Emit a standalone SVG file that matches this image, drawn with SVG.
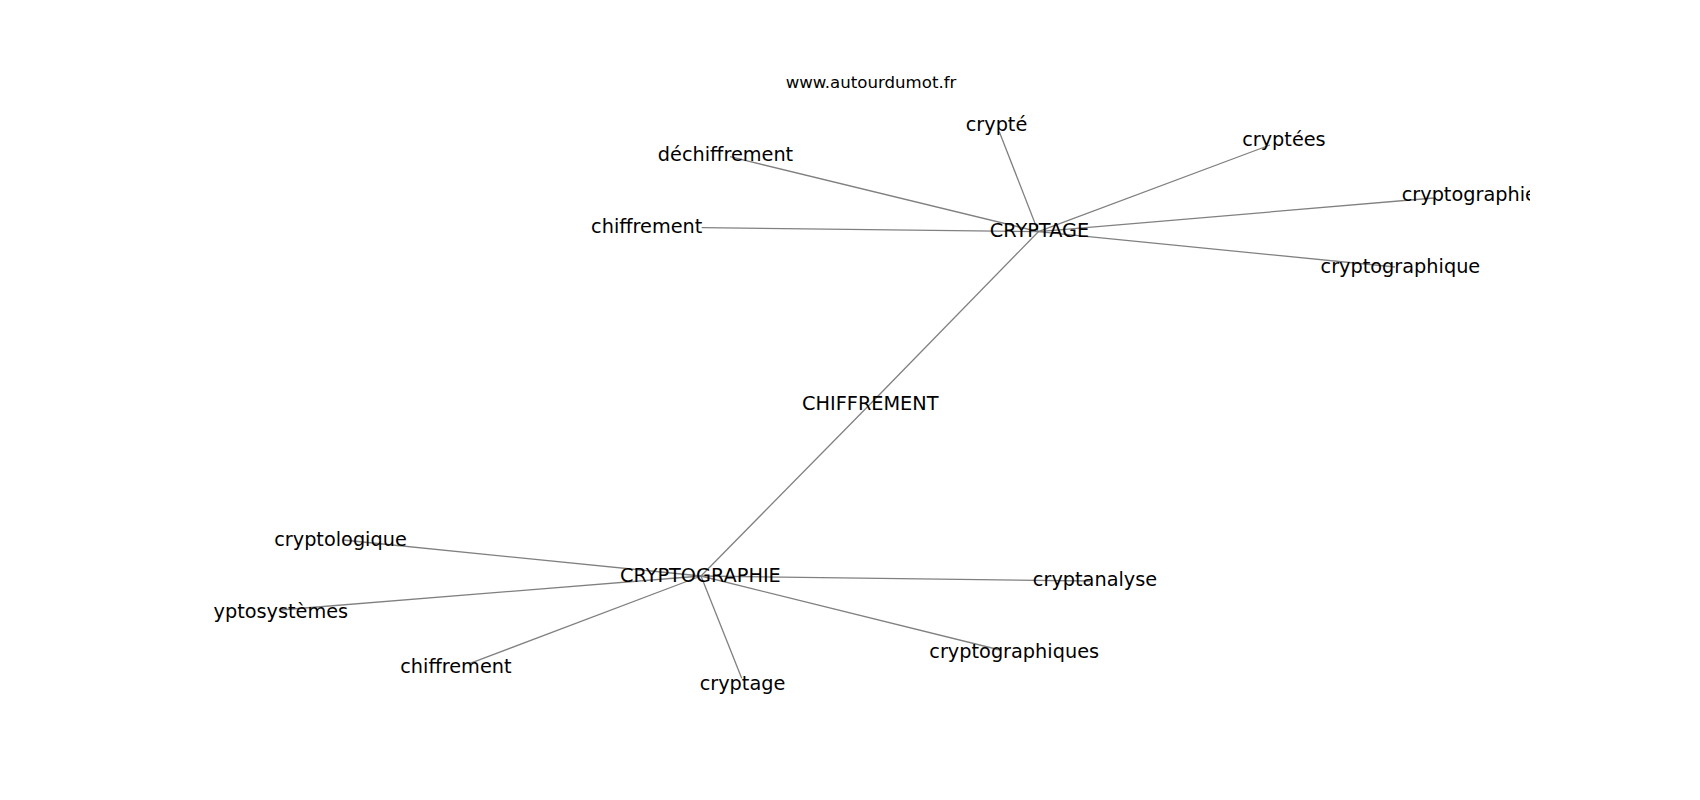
<svg xmlns="http://www.w3.org/2000/svg" width="1700" height="800" viewBox="0 0 1700 800">
  <style>
    .edge { stroke: #808080; stroke-width: 1.3; fill: none; }
    .lbl { font-family: "DejaVu Sans", "Liberation Sans", sans-serif; font-size: 19.3px; fill: #000000; text-anchor: middle; }
    .title { font-family: "DejaVu Sans", "Liberation Sans", sans-serif; font-size: 16.6px; fill: #000000; text-anchor: middle; }
  </style>
  <defs>
    <clipPath id="axes">
      <rect x="212.5" y="96" width="1317.5" height="616"/>
    </clipPath>
  </defs>
  <rect x="0" y="0" width="1700" height="800" fill="#ffffff"/>
  <text class="title" x="871" y="87.7">www.autourdumot.fr</text>
  <g id="connectors" clip-path="url(#axes)">
    <line class="edge" x1="1038.3" y1="231.7" x2="870" y2="404.2"/>
    <line class="edge" x1="870" y1="404.2" x2="701" y2="576"/>
    <line class="edge" x1="1038.3" y1="231.7" x2="999.3" y2="131.7"/>
    <line class="edge" x1="1038.3" y1="231.7" x2="730" y2="156.7"/>
    <line class="edge" x1="1038.3" y1="231.7" x2="701.7" y2="227.7"/>
    <line class="edge" x1="1038.3" y1="231.7" x2="1270" y2="145"/>
    <line class="edge" x1="1038.3" y1="231.7" x2="1434" y2="198"/>
    <line class="edge" x1="1038.3" y1="231.7" x2="1395" y2="267"/>
    <line class="edge" x1="701" y1="576" x2="343" y2="540"/>
    <line class="edge" x1="701" y1="576" x2="280" y2="610"/>
    <line class="edge" x1="701" y1="576" x2="470" y2="663.3"/>
    <line class="edge" x1="701" y1="576" x2="741.7" y2="678.3"/>
    <line class="edge" x1="701" y1="576" x2="1000" y2="650"/>
    <line class="edge" x1="701" y1="576" x2="1090" y2="581"/>
  </g>
  <g id="node-chiffrement-center"><text class="lbl" x="870.3" y="410">CHIFFREMENT</text></g>
  <g id="node-cryptage-hub"><text class="lbl" x="1039.5" y="236.7">CRYPTAGE</text></g>
  <g id="node-cryptographie-hub"><text class="lbl" x="700.4" y="581.7">CRYPTOGRAPHIE</text></g>
  <g id="node-crypte"><text class="lbl" x="996.5" y="130.5">crypté</text></g>
  <g id="node-dechiffrement"><text class="lbl" x="725.5" y="161">déchiffrement</text></g>
  <g id="node-chiffrement-top"><text class="lbl" x="646.7" y="233">chiffrement</text></g>
  <g id="node-cryptees"><text class="lbl" x="1283.9" y="145.7">cryptées</text></g>
  <g id="node-cryptographie" clip-path="url(#axes)"><text class="lbl" style="text-anchor:start" x="1401.7" y="201">cryptographie</text></g>
  <g id="node-cryptographique"><text class="lbl" x="1400.4" y="272.7">cryptographique</text></g>
  <g id="node-cryptologique"><text class="lbl" x="340.5" y="545.5">cryptologique</text></g>
  <g id="node-cryptosystemes"><text class="lbl" x="280.8" y="618.3">yptosystèmes</text></g>
  <g id="node-chiffrement-bottom"><text class="lbl" x="455.9" y="673.3">chiffrement</text></g>
  <g id="node-cryptage"><text class="lbl" x="742.5" y="690">cryptage</text></g>
  <g id="node-cryptographiques"><text class="lbl" x="1014.2" y="658.3">cryptographiques</text></g>
  <g id="node-cryptanalyse"><text class="lbl" x="1095" y="586">cryptanalyse</text></g>
</svg>
